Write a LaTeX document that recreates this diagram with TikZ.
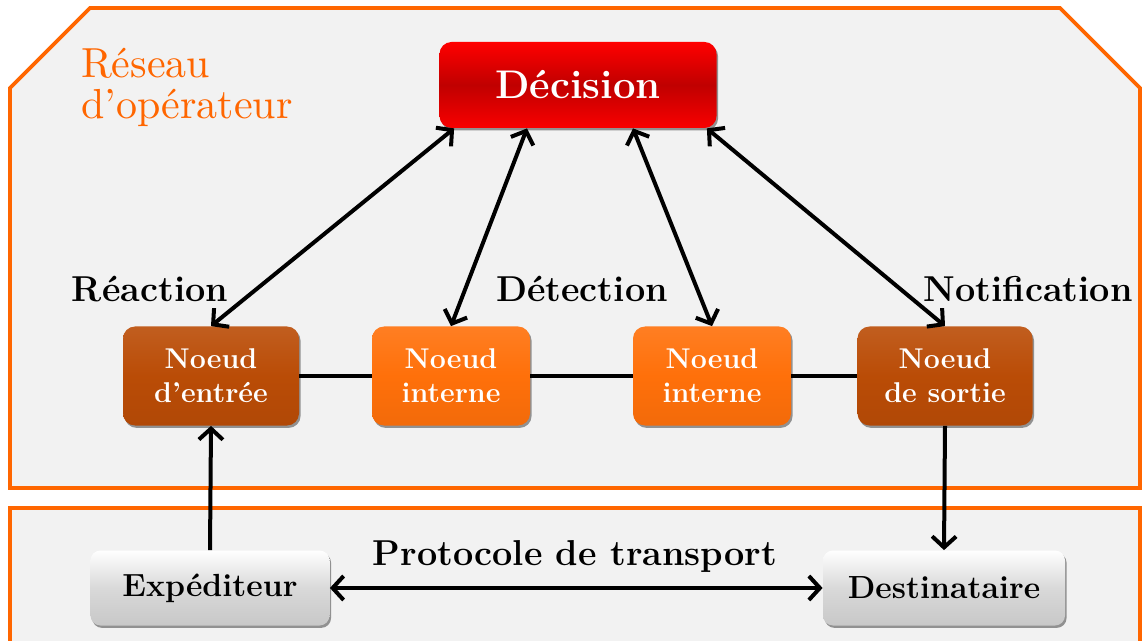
\documentclass[tikz,border=0pt]{standalone}
\usepackage{fontspec}
\newfontfamily\reseaufont{lmroman10-regular.otf}[Ligatures=TeX]
\usetikzlibrary{arrows.meta,shadows}
\definecolor{bordorange}{RGB}{255,102,0}
\definecolor{fond}{RGB}{242,242,242}
\definecolor{orfonce}{RGB}{186,76,6}
\definecolor{orclair}{RGB}{255,112,10}
\definecolor{rougefonce}{RGB}{192,0,0}
\definecolor{grisbox}{RGB}{217,217,217}
\tikzset{
  panneau/.style={draw=bordorange,fill=fond,line width=1.8pt},
  ombre/.style={drop shadow={shadow xshift=0.8pt,shadow yshift=-1.2pt,opacity=0.4,fill=black}},
  decision/.style={rounded corners=6pt,minimum width=138.5pt,minimum height=43pt,
    top color=red,bottom color=red!90!rougefonce,middle color=rougefonce,text=white,
    font=\fontsize{20}{24}\selectfont\bfseries,ombre},
  noeudfonce/.style={rounded corners=6pt,minimum height=49.5pt,align=center,
    top color=orfonce!90!white,bottom color=orfonce!95!black,middle color=orfonce,text=white,
    font=\fontsize{14.3}{17}\selectfont\bfseries,ombre},
  noeudclair/.style={noeudfonce,top color=orclair!90!white,bottom color=orclair!95!black,middle color=orclair},
  hote/.style={rounded corners=5pt,minimum height=37.5pt,
    top color=white,bottom color=grisbox!92!black,middle color=grisbox,
    font=\fontsize{16}{18}\selectfont\bfseries,ombre},
  etiquette/.style={font=\fontsize{18}{21}\selectfont\bfseries},
  lien/.style={line width=2pt},
  fleche/.style={line width=2pt,->}
}
\begin{document}
\begin{tikzpicture}[x=0.5pt,y=-0.5pt,>={Straight Barb[length=5.5pt,width=12pt]}]
\useasboundingbox (0,0) rectangle (1145,641);
% Drawing panels
\draw[panneau] (10,88) -- (90,8) -- (1060,8) -- (1140,88) -- (1140,488) -- (10,488) -- cycle;
\draw[panneau] (10,660) -- (10,508) -- (1140,508) -- (1140,660);
\node[anchor=west,align=left,text=bordorange,font=\reseaufont\fontsize{21}{20.5}\selectfont] (reseau) at (74,87) {Réseau\\d'opérateur};
% Drawing nodes
\node[decision] (dec) at (578,85) {Décision};
\node[noeudfonce,minimum width=88pt] (entree) at (211,376) {Noeud\\d'entrée};
\node[noeudclair,minimum width=79pt] (interne1) at (451,376) {Noeud\\interne};
\node[noeudclair,minimum width=79pt] (interne2) at (712,376) {Noeud\\interne};
\node[noeudfonce,minimum width=87.5pt] (sortie) at (945,376) {Noeud\\de sortie};
\node[hote,minimum width=119.5pt] (exp) at (210,588) {Expéditeur};
\node[hote,minimum width=121pt] (dest) at (944,588) {Destinataire};
% Drawing labels
\node[etiquette] (reaction) at (150,289) {Réaction};
\node[etiquette] (detection) at (582,289) {Détection};
\node[etiquette] (notif) at (1028,289) {Notification};
\node[etiquette] (protocole) at (575,556) {Protocole de transport};
% Drawing links
\draw[lien] (entree.east) -- (interne1.west);
\draw[lien] (interne1.east) -- (interne2.west);
\draw[lien] (interne2.east) -- (sortie.west);
% Drawing arrows
\draw[fleche,<->] ([xshift=7.5pt]dec.south west) -- (entree.north);
\draw[fleche,<->] ([xshift=-25.5pt]dec.south) -- (interne1.north);
\draw[fleche,<->] ([xshift=27.5pt]dec.south) -- (interne2.north);
\draw[fleche,<->] ([xshift=-5pt]dec.south east) -- (sortie.north);
\draw[fleche] (exp.north) -- (entree.south);
\draw[fleche] (sortie.south) -- (dest.north);
\draw[fleche,<->] (exp.east) -- (dest.west);
\end{tikzpicture}
\end{document}
